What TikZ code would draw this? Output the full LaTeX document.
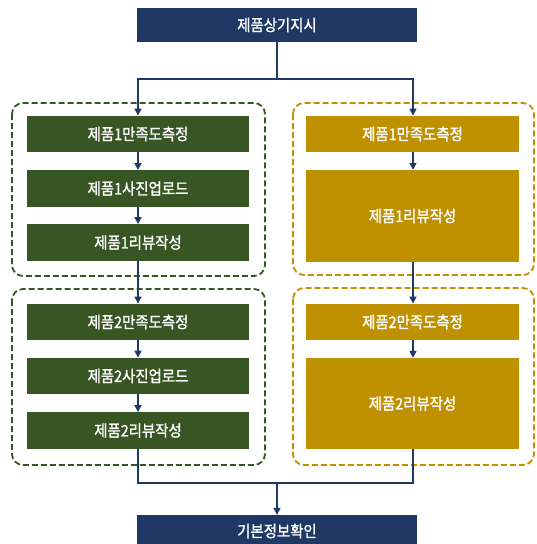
\documentclass[tikz,border=0pt]{standalone}
\usepackage{fontspec}
\setmainfont{Noto Sans CJK KR}
\newfontfamily\boxfont{Noto Sans CJK KR}[FakeBold=1.3,FakeStretch=0.9]
\usetikzlibrary{arrows.meta}
\definecolor{navy}{HTML}{1F3864}
\definecolor{grn}{HTML}{375623}
\definecolor{gold}{HTML}{BF9000}
\tikzset{
  box/.style={inner sep=0pt, text=white, font=\boxfont\fontsize{16}{18}\selectfont},
  navybox/.style={box, fill=navy, minimum width=280pt, minimum height=34pt},
  greenbox/.style={box, fill=grn, minimum width=222pt, minimum height=36.5pt},
  goldbox/.style={box, fill=gold, minimum width=213pt, minimum height=36.5pt},
  grpgreen/.style={draw=grn, line width=1.8pt, dash pattern=on 6pt off 3pt, rounded corners=11pt},
  grpgold/.style={draw=gold, line width=1.8pt, dash pattern=on 6pt off 3pt, rounded corners=11pt},
  conn/.style={draw=navy, line width=1.6pt},
  arr/.style={conn, -{Triangle[width=7pt,length=7pt]}}
}
\begin{document}
\begin{tikzpicture}[x=1pt,y=-1pt]
\useasboundingbox (0,0) rectangle (536,544);
% group frames
\draw[grpgreen] (12,103) rectangle (265,276);
\draw[grpgreen] (12,289) rectangle (265,465);
\draw[grpgold] (293,103) rectangle (534,275);
\draw[grpgold] (293,288) rectangle (534,465);
% nodes
\node[navybox] (top) at (277,25) {제품상기지시};
\node[navybox, minimum height=32pt] (bot) at (277,531) {기본정보확인};
\node[greenbox] (g1) at (138,134) {제품1만족도측정};
\node[greenbox] (g2) at (138,188.5) {제품1사진업로드};
\node[greenbox] (g3) at (138,242.5) {제품1리뷰작성};
\node[greenbox] (g4) at (138,322) {제품2만족도측정};
\node[greenbox] (g5) at (138,376) {제품2사진업로드};
\node[greenbox] (g6) at (138,430.5) {제품2리뷰작성};
\node[goldbox] (y1) at (412.5,134) {제품1만족도측정};
\node[goldbox, minimum height=92pt] (y2) at (412.5,216) {제품1리뷰작성};
\node[goldbox] (y3) at (412.5,322) {제품2만족도측정};
\node[goldbox, minimum height=91pt] (y4) at (412.5,403.5) {제품2리뷰작성};
% junction coordinates
\coordinate (split) at (277,79);
\coordinate (sl) at (138,79);
\coordinate (sr) at (413,79);
\coordinate (join) at (277,483);
\coordinate (jl) at (138,483);
\coordinate (jr) at (413,483);
% connectors
\draw[conn] (top.south) -- (split);
\draw[arr] (split) -- (sl) -- (sl |- g1.north);
\draw[arr] (split) -- (sr) -- (sr |- y1.north);
\draw[arr] (g1) -- (g2);
\draw[arr] (g2) -- (g3);
\draw[arr] (g3) -- (g4);
\draw[arr] (g4) -- (g5);
\draw[arr] (g5) -- (g6);
\draw[arr] (sr |- y1.south) -- (sr |- y2.north);
\draw[arr] (sr |- y2.south) -- (sr |- y3.north);
\draw[arr] (sr |- y3.south) -- (sr |- y4.north);
\draw[conn] (g6.south) -- (jl) -- (join);
\draw[conn] (sr |- y4.south) -- (jr) -- (join);
\draw[arr] (join) -- (bot.north);
\end{tikzpicture}
\end{document}
